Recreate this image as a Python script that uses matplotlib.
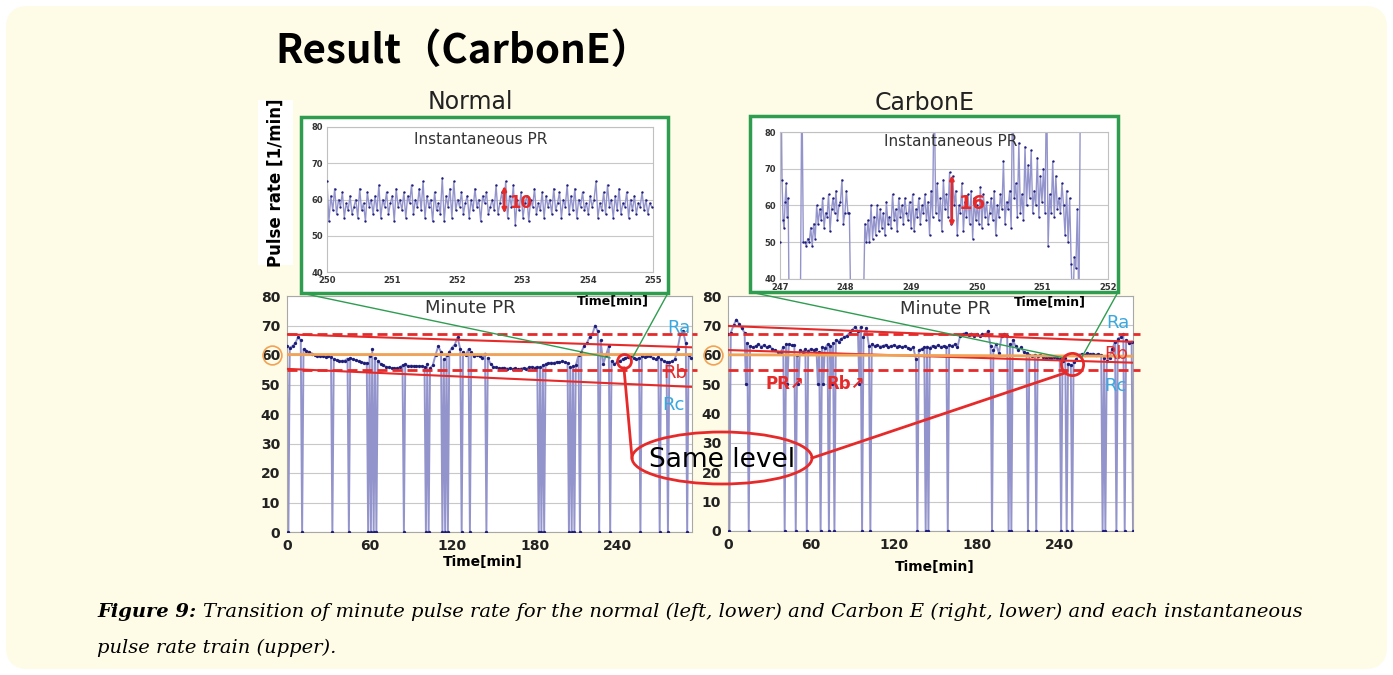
import numpy as np
import matplotlib
matplotlib.use("Agg")
import matplotlib.pyplot as plt
from matplotlib.patches import Rectangle, Ellipse, FancyBboxPatch

W, H = 1393, 675

# ---- minute pulse rate, Normal (level every 2 min, dropouts at odd minutes)
norm_t = np.arange(0, 295, 2)
norm_pr = [63, 62.5, 63, 64, 66, 65, 62, 61.5, 61, 60.5,
           60, 59.8, 59.6, 59.5, 59.4, 59.5, 59.2, 58.5, 58.2, 58,
           58, 58.1, 58.8, 59, 58.5, 58.2, 57.8, 57.6, 57.4, 57.3,
           59.5, 62, 59, 58, 57, 56.5, 56, 55.8, 55.6, 55.5,
           55.6, 55.8, 56.5, 56.8, 56.2, 56.4, 56.3, 56.2, 56.3, 56.2,
           56, 57, 55.5, 56.5, 60, 63, 61, 58.5, 60, 61,
           62.5, 63.5, 66, 62, 61, 60, 62, 61, 59.5, 60,
           59.5, 59, 60.5, 59, 57, 56, 55.8, 55.6, 55.5, 55.7,
           55.4, 55.5, 55.3, 55.5, 55.2, 55.4, 55.6, 55.3, 55.8, 56,
           55.7, 56, 55.8, 56.5, 57, 57.2, 57.4, 57.3, 57.6, 57.5,
           57.8, 57.6, 57.2, 56, 56.2, 56.5, 60, 61, 63, 64,
           66, 67, 70, 68, 65, 57, 60, 63, 58, 57,
           57.5, 58, 58.5, 59, 59.3, 59.5, 59, 58.5, 59, 59.5,
           59.3, 59.6, 59.5, 59, 58.5, 59.3, 58.5, 58, 57.6, 57.5,
           57.8, 58.5, 62, 67, 68, 64, 60, 59]
norm_drop_t = [1, 11, 33, 45, 59, 61, 63, 65, 85, 101, 103, 113, 115, 117, 127,
               133, 145, 183, 185, 187, 205, 207, 209, 213, 227, 235, 257, 271,
               277, 291]
norm_drop_v = [0] * len(norm_drop_t)

# ---- minute pulse rate, CarbonE
carb_t = np.arange(0, 293, 2)
carb_pr = [67, 67.5, 70, 72, 70.5, 69, 67.5, 64, 63, 62.5,
           63, 63.5, 62.8, 63.2, 62.5, 63, 62, 61.5, 61, 60.8,
           62.5, 63.5, 63.5, 63.2, 63.3, 60, 61.5, 61, 61.8, 61.3,
           62, 61.6, 62, 61, 62.5, 62.2, 63.5, 63, 64, 65,
           64.5, 65.5, 66, 66.5, 67.5, 68.5, 69.5, 68, 69.5, 66,
           69, 63, 63.5, 63, 63.2, 62.8, 63, 63.4, 62.6, 63,
           63.2, 62.8, 63, 62.5, 63, 62.4, 62, 62.5, 58.5, 61.5,
           62, 62.5, 62.8, 62.4, 63, 62.8, 63.2, 62.6, 63, 62.8,
           63.3, 63, 63.5, 62.6, 66.5, 67, 67.5, 66.8, 67.2, 66.5,
           67, 66.4, 67.2, 66.6, 68, 63, 61.5, 63.5, 60.5, 66.5,
           67, 66.5, 63.5, 65, 63, 61.5, 62.5, 61, 60.5, 60,
           59.6, 60, 59.5, 59.8, 59.3, 59, 59.4, 59, 59.2, 58.8,
           58.5, 58, 59, 57, 56.5, 57.5, 58.5, 60, 60.3, 60,
           60.5, 60.2, 60.4, 60, 60.3, 59.8, 59, 58, 59, 62,
           64.5, 65.5, 66, 67, 65, 64, 64.5]
carb_drop_t = [1, 13, 15, 41, 43, 49, 51, 57, 65, 67, 69, 73, 75, 77, 95, 97,
               103, 137, 143, 145, 159, 191, 203, 205, 217, 223, 241, 245, 249,
               271, 273, 281, 287, 293]
carb_drop_v = [0, 50, 0, 0, 50, 0, 50, 0, 50, 0, 50, 0, 50, 0, 50, 0,
               0, 0, 0, 0, 0, 0, 0, 0, 0, 0, 0, 0, 0,
               0, 0, 0, 0, 0]

# ---- instantaneous pulse rate (beat by beat)
norm_inst = [65, 54, 61, 57, 63, 56, 60, 58, 62, 55, 59, 57, 61, 56, 58, 60, 55, 63, 57, 59,
             54, 62, 58, 60, 56, 61, 57, 64, 55, 60, 58, 62, 56, 59, 61, 54, 63, 58, 60, 57,
             62, 55, 61, 59, 64, 56, 60, 58, 63, 57, 65, 55, 61, 58, 60, 54, 62, 57, 59, 56,
             66, 54, 61, 58, 63, 55, 65, 57, 60, 58, 62, 56, 59, 61, 55, 60, 57, 63, 58, 60,
             54, 61, 59, 62, 56, 58, 60, 57, 64, 56, 59, 62, 57, 65, 55, 61, 58, 64, 53, 60,
             57, 62, 55, 59, 61, 54, 60, 58, 63, 56, 59, 57, 62, 55, 61, 58, 60, 56, 63, 57,
             59, 62, 55, 60, 58, 64, 56, 61, 57, 63, 55, 60, 58, 62, 57, 59, 56, 61, 58, 60,
             65, 55, 59, 57, 62, 56, 64, 58, 60, 55, 61, 57, 63, 56, 59, 58, 62, 55, 60, 57,
             61, 56, 59, 58, 62, 57, 60, 56, 59, 58]
norm_inst_span = (250.0, 254.98)

carb_inst = [
    ((247.00, 247.14), [50, 95, 67, 56, 54, 61, 66, 57, 62, 30]),
    ((247.31, 248.08), [30, 95, 50, 50, 49, 51, 50, 54, 49, 55, 51, 60, 55, 59, 56, 62,
                        54, 58, 57, 63, 53, 59, 62, 58, 64, 56, 60, 61, 67, 55, 58, 64,
                        58, 58, 30]),
    ((248.27, 251.58), [30, 55, 50, 56, 50, 60, 51, 57, 52, 60, 53, 59, 54, 58, 52, 61,
                        55, 57, 54, 63, 56, 59, 53, 62, 57, 60, 55, 62, 58, 56, 61, 54,
                        63, 53, 59, 57, 62, 55, 60, 58, 63, 56, 61, 52, 64, 57, 95, 58,
                        66, 56, 62, 53, 67, 59, 63, 57, 69, 55, 68, 60, 64, 52, 60, 58,
                        66, 53, 61, 57, 63, 55, 64, 51, 62, 56, 60, 55, 65, 54, 63, 57,
                        61, 55, 58, 62, 56, 64, 52, 60, 57, 63, 59, 72, 55, 61, 59, 64,
                        54, 95, 62, 66, 57, 77, 58, 63, 56, 76, 60, 71, 62, 75, 58, 64,
                        60, 73, 57, 68, 61, 70, 58, 95, 49, 63, 58, 72, 57, 68, 59, 62,
                        58, 66, 60, 52, 64, 50, 62, 44, 30, 46, 43, 59, 30, 95]),
]

cream = '#fefbe6'
lav = '#9494cc'
navy = '#1e1e7a'
red = '#e62a2a'
orange = '#f2a255'
green = '#2e9d50'
sky = '#3aa8e0'


def rect(x0, y0, x1, y1):
    return [x0 / W, 1 - y1 / H, (x1 - x0) / W, (y1 - y0) / H]


def T(x, y, s, **kw):
    return fig.text(x / W, 1 - y / H, s, **kw)


def px(ax, x, y):
    dx, dy = ax.transData.transform((x, y))
    return dx, H - dy


fig = plt.figure(figsize=(W / 100, H / 100), dpi=100, facecolor='white')

# background layer
bg = fig.add_axes([0, 0, 1, 1], zorder=0)
bg.set_xlim(0, W)
bg.set_ylim(H, 0)
bg.axis('off')
bg.add_patch(FancyBboxPatch((6, 6), W - 12, H - 12,
                            boxstyle='round,pad=0,rounding_size=22',
                            fc=cream, ec='none'))
bg.add_patch(Rectangle((301, 117), 367, 176, fc='white', ec='none'))
bg.add_patch(Rectangle((750, 116), 368, 176, fc='white', ec='none'))
bg.add_patch(Rectangle((258, 100), 35, 165, fc='white', ec='none'))


def minute_chart(ax, t, pr, dt, dv, xmax, ra, rb, orng):
    tt = np.concatenate([t, dt])
    vv = np.concatenate([pr, dv])
    o = np.argsort(tt)
    ax.set_facecolor('white')
    ax.plot(tt[o], vv[o], color=lav, lw=1.4, zorder=2)
    ax.plot(tt[o], vv[o], 'o', ms=2.4, color=navy, mec='none', zorder=3)
    ax.set_xlim(0, xmax)
    ax.set_ylim(0, 80)
    ax.set_xticks([0, 60, 120, 180, 240])
    ax.set_yticks(range(0, 81, 10))
    ax.tick_params(length=0, labelsize=10, pad=5, colors='#222222')
    for lab in ax.get_xticklabels() + ax.get_yticklabels():
        lab.set_fontweight('bold')
    ax.grid(axis='y', color='#c8c8c8', lw=0.8)
    ax.set_axisbelow(True)
    for s in ax.spines.values():
        s.set_color('#a8a8a8')
    # Ra/Rc trend lines, Rb band, 60 reference
    ax.plot([0, 298], [67, 67], color=red, lw=2, dashes=(3.6, 1.8), clip_on=False, zorder=4)
    ax.plot([0, 298], [54.8, 54.8], color=red, lw=2, dashes=(3.6, 1.8), clip_on=False, zorder=4)
    ax.plot([0, xmax], ra, color=red, lw=1.5, zorder=4)
    ax.plot([0, xmax], rb, color=red, lw=1.5, zorder=4)
    ax.plot([0, xmax], orng, color=orange, lw=2, zorder=4)


ax_nl = fig.add_axes(rect(287, 296, 692, 532), zorder=1)
minute_chart(ax_nl, norm_t, norm_pr, norm_drop_t, norm_drop_v, 294.5,
             [67, 62.6], [55.3, 49.2], [60.2, 60.2])
ax_cl = fig.add_axes(rect(728, 296, 1133, 531), zorder=1)
minute_chart(ax_cl, carb_t, carb_pr, carb_drop_t, carb_drop_v, 293,
             [69.8, 64.4], [61.6, 57.3], [60, 59.5])

for ax, tra, trb, trc in [(ax_nl, (285, 69), (282, 54), (281, 43)),
                          (ax_cl, (282, 70.7), (281, 60.2), (280, 49.3))]:
    ax.text(*tra, 'Ra', color=sky, fontsize=13, ha='center', va='center', zorder=6)
    ax.text(*trb, 'Rb', color=red, fontsize=13, ha='center', va='center', zorder=6)
    ax.text(*trc, 'Rc', color=sky, fontsize=13, ha='center', va='center', zorder=6)

ax_nl.text(133, 76, 'Minute PR', fontsize=13, ha='center', va='center', color='#333333')
ax_cl.text(157, 75.5, 'Minute PR', fontsize=13, ha='center', va='center', color='#333333')
ax_cl.text(41, 50, 'PR\u2197', color=red, fontsize=12, fontweight='bold', ha='center', va='center')
ax_cl.text(85, 50, 'Rb\u2197', color=red, fontsize=12, fontweight='bold', ha='center', va='center')

# same-level circles
ax_nl.plot(245, 58, 'o', ms=10, mfc='none', mec=red, mew=2, zorder=6)
ax_cl.plot(249, 57, 'o', ms=16, mfc='none', mec=red, mew=2, zorder=6)


def inst_chart(ax, segs, x0):
    ax.set_facecolor('white')
    for (a, b), vals in segs:
        tt = np.linspace(a, b, len(vals))
        ax.plot(tt, vals, color=lav, lw=1.0, zorder=2)
        ax.plot(tt, vals, 'o', ms=1.7, color=navy, mec='none', zorder=3)
    ax.set_xlim(x0, x0 + 5)
    ax.set_ylim(40, 80)
    ax.set_xticks(range(x0, x0 + 6))
    ax.set_yticks(range(40, 81, 10))
    ax.tick_params(length=0, labelsize=6, pad=3, colors='#333333')
    for lab in ax.get_xticklabels() + ax.get_yticklabels():
        lab.set_fontweight('bold')
    ax.grid(axis='y', color='#c8c8c8', lw=0.8)
    ax.set_axisbelow(True)
    for s in ax.spines.values():
        s.set_color('#c0c0c0')


ax_ni = fig.add_axes(rect(327, 127, 653, 272), zorder=1)
inst_chart(ax_ni, [(norm_inst_span, norm_inst)], 250)
ax_ni.text(252.35, 76.5, 'Instantaneous PR', fontsize=11, ha='center', va='center', color='#333333')
ax_ni.annotate('', xy=(252.72, 64.5), xytext=(252.72, 55.5),
               arrowprops=dict(arrowstyle='<|-|>', color=red, lw=1.8, mutation_scale=6))
ax_ni.text(252.8, 59, '10', color=red, fontsize=12, fontweight='bold', va='center')

ax_ci = fig.add_axes(rect(780, 132, 1108, 279), zorder=1)
inst_chart(ax_ci, carb_inst, 247)
ax_ci.text(249.6, 77.3, 'Instantaneous PR', fontsize=11, ha='center', va='center', color='#333333')
ax_ci.annotate('', xy=(249.62, 69), xytext=(249.62, 53.5),
               arrowprops=dict(arrowstyle='<|-|>', color=red, lw=1.8, mutation_scale=6))
ax_ci.text(249.72, 60.5, '16', color=red, fontsize=14, fontweight='bold', va='center')

# top overlay: frames, zoom lines, "Same level"
ov = fig.add_axes([0, 0, 1, 1], zorder=10)
ov.set_xlim(0, W)
ov.set_ylim(H, 0)
ov.axis('off')
ov.add_patch(Rectangle((301, 117), 367, 176, fc='none', ec=green, lw=2.5))
ov.add_patch(Rectangle((750, 116), 368, 176, fc='none', ec=green, lw=2.5))

cl = px(ax_nl, 245, 58)
cr = px(ax_cl, 249, 57)
ov.plot([301, cl[0] - 14], [293, cl[1] - 3], color=green, lw=1)
ov.plot([668, cl[0] + 9], [293, cl[1] - 4], color=green, lw=1)
ov.plot([750, cr[0] - 10], [292, cr[1] - 6], color=green, lw=1)
ov.plot([1118, cr[0] + 10], [292, cr[1] - 7], color=green, lw=1)

ell_c = (722, 458)
ov.add_patch(Ellipse(ell_c, 180, 52, fc='none', ec=red, lw=2))
ov.plot([cl[0], ell_c[0] - 90], [cl[1] + 7, ell_c[1]], color=red, lw=2)
ov.plot([cr[0] - 6, ell_c[0] + 90], [cr[1] + 9, ell_c[1]], color=red, lw=2)
ov.text(ell_c[0], ell_c[1] + 2, 'Same level', fontsize=19, ha='center', va='center', color='black')

for ax in (ax_nl, ax_cl):
    ox, oy = px(ax, 0, 60)
    ov.plot(ox - 15, oy, 'o', ms=13.5, mfc='none', mec=orange, mew=1.2)

# texts
T(275, 63, 'Result\uff08CarbonE\uff09', fontsize=29, fontweight='bold',
  family=['Noto Sans CJK JP', 'DejaVu Sans'], va='baseline')
T(470, 102, 'Normal', fontsize=17, ha='center', va='center', color='#222222')
T(925, 103, 'CarbonE', fontsize=17, ha='center', va='center', color='#222222')
T(276, 183, 'Pulse rate [1/min]', fontsize=12, fontweight='bold', rotation=90,
  ha='center', va='center')
T(613, 301, 'Time[min]', fontsize=9, fontweight='bold', ha='center', va='center')
T(1050, 302, 'Time[min]', fontsize=9, fontweight='bold', ha='center', va='center')
T(483, 562, 'Time[min]', fontsize=10, fontweight='bold', ha='center', va='center')
T(935, 567, 'Time[min]', fontsize=10, fontweight='bold', ha='center', va='center')

T(97, 617, 'Figure 9:', fontsize=14, family='DejaVu Serif', style='italic',
  fontweight='bold', va='baseline')
T(203, 617, 'Transition of minute pulse rate for the normal (left, lower) and Carbon E '
  '(right, lower) and each instantaneous', fontsize=14, family='DejaVu Serif',
  style='italic', va='baseline')
T(97, 653, 'pulse rate train (upper).', fontsize=14, family='DejaVu Serif',
  style='italic', va='baseline')

fig.savefig('out.png', dpi=100, facecolor=fig.get_facecolor())
